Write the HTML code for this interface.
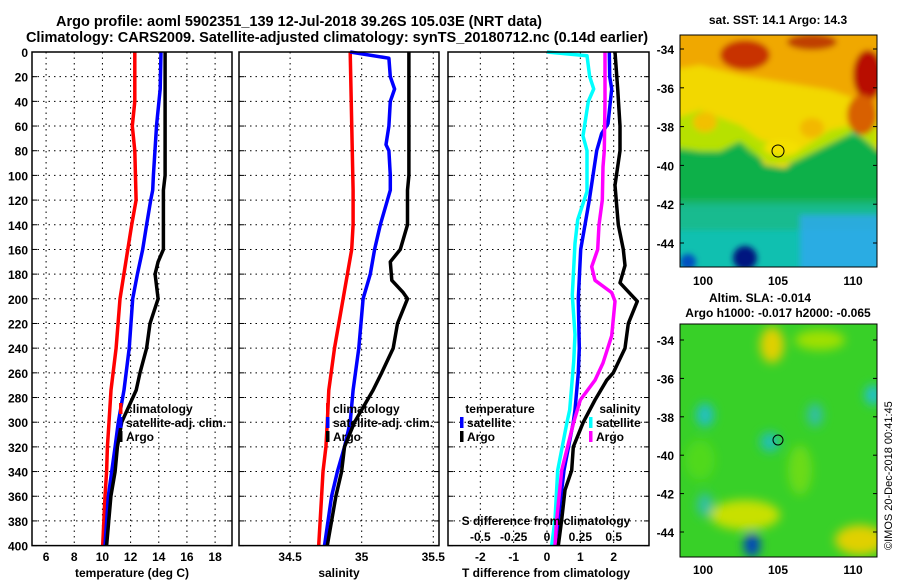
<!DOCTYPE html>
<html><head><meta charset="utf-8"><style>
body{margin:0;background:#fff;}
svg{display:block;font-family:"Liberation Sans",sans-serif;font-weight:bold;}
</style></head><body>
<svg id="chart" width="900" height="580" viewBox="0 0 900 580" xmlns="http://www.w3.org/2000/svg">
<defs>
<filter id="bl" x="-20%" y="-20%" width="140%" height="140%"><feGaussianBlur stdDeviation="5"/></filter>
<filter id="bl2" x="-20%" y="-20%" width="140%" height="140%"><feGaussianBlur stdDeviation="3"/></filter>
<clipPath id="c1"><rect x="680" y="35" width="197" height="232"/></clipPath>
<clipPath id="c2"><rect x="680" y="324" width="197" height="233"/></clipPath>
</defs>
<text x="299" y="26" font-size="14.5" text-anchor="middle">Argo profile: aoml 5902351_139 12-Jul-2018 39.26S 105.03E (NRT data)</text>
<text x="337" y="42" font-size="14.5" text-anchor="middle">Climatology: CARS2009. Satellite-adjusted climatology: synTS_20180712.nc (0.14d earlier)</text>

<g>
<g clip-path="url(#c1)">
<rect x="680" y="35" width="197" height="232" fill="#10c0b0"/>
<g filter="url(#bl2)">
<rect x="670" y="135" width="220" height="70" fill="#10b048"/>
<rect x="670" y="200" width="220" height="30" fill="#20b880" opacity="0.7"/>
<polygon points="670,25 890,25 890,150 877,150 855,130 835,140 815,150 795,160 785,168 765,165 755,150 740,140 720,150 700,150 670,145" fill="#f2d800"/>
<polygon points="670,120 700,110 740,125 760,140 800,150 830,130 877,120 877,150 855,132 835,142 815,152 795,162 770,164 750,152 740,142 720,152 700,152 670,148" fill="#a8e400" opacity="0.8"/>
<polygon points="670,25 890,25 890,110 860,100 830,90 800,85 770,80 740,75 700,65 670,70" fill="#f0a800"/>
<ellipse cx="745" cy="55" rx="25" ry="15" fill="#c83000"/>
<ellipse cx="812" cy="42" rx="25" ry="8" fill="#c04000"/>
<ellipse cx="868" cy="75" rx="15" ry="25" fill="#b81000"/>
<ellipse cx="862" cy="115" rx="15" ry="20" fill="#d86000"/>
<ellipse cx="705" cy="122" rx="12" ry="10" fill="#f2c000"/>
<ellipse cx="812" cy="128" rx="12" ry="10" fill="#f2b800"/>
<ellipse cx="782" cy="148" rx="18" ry="8" fill="#f4e000"/>
<rect x="800" y="215" width="80" height="55" fill="#30a8f0" opacity="0.8"/>
<ellipse cx="745" cy="258" rx="12" ry="12" fill="#001880"/>
<ellipse cx="688" cy="262" rx="8" ry="8" fill="#0050c0"/>
</g></g>
<rect x="680" y="35" width="197" height="232" fill="none" stroke="#000"/>
<circle cx="778" cy="151" r="6" fill="none" stroke="#000"/>
</g>
<g>
<g clip-path="url(#c2)">
<rect x="680" y="324" width="197" height="233" fill="#38d028"/>
<g filter="url(#bl)">
<ellipse cx="772" cy="345" rx="12" ry="18" fill="#e0d000"/>
<ellipse cx="820" cy="340" rx="25" ry="10" fill="#a0e000"/>
<ellipse cx="745" cy="515" rx="35" ry="15" fill="#c8e000"/>
<ellipse cx="860" cy="540" rx="25" ry="15" fill="#e0d000"/>
<ellipse cx="705" cy="415" rx="9" ry="12" fill="#20c0c0"/>
<ellipse cx="770" cy="442" rx="10" ry="10" fill="#20c0b0"/>
<ellipse cx="815" cy="415" rx="8" ry="12" fill="#30c0a0"/>
<ellipse cx="873" cy="395" rx="8" ry="10" fill="#20c0d0"/>
<ellipse cx="705" cy="505" rx="8" ry="12" fill="#30c0a0"/>
<ellipse cx="752" cy="545" rx="8" ry="12" fill="#0040c0"/>
<ellipse cx="800" cy="470" rx="12" ry="25" fill="#80e010" opacity="0.7"/>
<ellipse cx="700" cy="460" rx="15" ry="20" fill="#60e010" opacity="0.6"/>
</g></g>
<rect x="680" y="324" width="197" height="233" fill="none" stroke="#000"/>
<circle cx="778" cy="440" r="5" fill="none" stroke="#000"/>
</g>
<text x="778" y="24" font-size="12" text-anchor="middle">sat. SST: 14.1 Argo: 14.3</text>
<text x="760" y="302" font-size="12" text-anchor="middle">Altim. SLA: -0.014</text>
<text x="778" y="317" font-size="12" text-anchor="middle">Argo h1000: -0.017 h2000: -0.065</text>
<text transform="translate(892,550) rotate(-90)" font-size="11" font-weight="normal">©IMOS 20-Dec-2018 00:41:45</text>
<g id="plots"></g>
</svg>
<script>
const depthTicks=[0,20,40,60,80,100,120,140,160,180,200,220,240,260,280,300,320,340,360,380,400];
const tTicks=[6,8,10,12,14,16,18];
const sTicks=[34.5,35,35.5];
const dTTicks=[-2,-1,0,1,2];
const dSTickLabels=["-0.5","-0.25","0","0.25","0.5"];
const dSTicks=[-0.5,-0.25,0,0.25,0.5];
const lonTicks=[100,105,110];
const latTicks=[-34,-36,-38,-40,-42,-44];

const tClimD=[0,40,60,80,120,140,160,200,240,274,300,320,340,360,400];
const tClim=[12.3,12.3,12.12,12.3,12.39,12.08,11.8,11.25,10.97,10.61,10.47,10.35,10.3,10.18,10.02];
const tSatD=[0,30,59,100,112,120,140,160,180,200,240,274,300,320,340,360,400];
const tSat=[14.16,14.1,13.85,13.62,13.57,13.43,13.14,12.86,12.48,12.15,11.9,11.53,11.13,10.9,10.66,10.42,10.18];
const tArgoD=[0,100,112,160,170,180,200,220,240,260,274,300,320,340,360,400];
const tArgo=[14.45,14.45,14.33,14.33,13.95,13.74,13.95,13.38,13.14,12.67,12.4,11.37,11.06,10.9,10.6,10.3];

const sClimD=[0,112,140,160,200,240,274,300,320,340,360,400];
const sClim=[34.92,34.94,34.94,34.93,34.87,34.81,34.77,34.76,34.75,34.73,34.72,34.70];
const sSatD=[0,5,20,30,40,60,75,80,100,112,140,160,180,200,240,274,300,320,340,360,400];
const sSat=[34.92,35.19,35.2,35.23,35.2,35.19,35.17,35.19,35.2,35.2,35.13,35.09,35.06,35.01,34.98,34.94,34.92,34.88,34.83,34.79,34.74];
const sArgoD=[0,100,112,140,160,170,185,195,200,220,240,260,274,300,320,340,360,400];
const sArgo=[35.33,35.33,35.32,35.32,35.27,35.2,35.21,35.29,35.32,35.25,35.22,35.14,35.08,34.95,34.88,34.86,34.82,34.76];

const dSSatD=[0,3,20,30,40,68,80,113,136,155,197,229,251,290,300,339,379,400];
const dSSat=[0,0.30,0.32,0.35,0.31,0.27,0.30,0.30,0.23,0.21,0.19,0.21,0.20,0.17,0.15,0.08,0.06,0.035];
const dTSatD=[0,20,30,58,66,80,120,140,160,200,240,260,290,300,339,379,400];
const dTSat=[1.87,1.88,1.94,1.83,1.64,1.49,1.27,1.14,1.01,0.94,0.97,0.94,0.84,0.79,0.51,0.34,0.24];
const dSArgoD=[0,40,80,93,120,140,160,174,185,195,202,230,252,266,282,300,339,379,400];
const dSArgo=[0.435,0.435,0.43,0.42,0.415,0.39,0.38,0.335,0.36,0.485,0.51,0.485,0.42,0.36,0.25,0.20,0.11,0.073,0.06];
const dTArgoD=[0,30,60,80,108,140,160,173,187,202,220,240,260,266,282,300,320,339,355,379,400];
const dTArgo=[2.04,2.12,2.19,2.19,2.04,2.14,2.29,2.34,2.19,2.71,2.44,2.34,1.99,1.79,1.44,1.09,0.79,0.74,0.54,0.44,0.34];

const NS="http://www.w3.org/2000/svg";
const root=document.getElementById('plots');
function mk(tag,attrs,parent){const e=document.createElementNS(NS,tag);for(const k in attrs)e.setAttribute(k,attrs[k]);(parent||root).appendChild(e);return e;}
const Y0=52,Y1=545.6;
function yD(d){return Y0+(d/400)*(Y1-Y0);}
function scale(x0,x1,v0,v1){return v=>x0+(v-v0)/(v1-v0)*(x1-x0);}
const panels=[
 {x0:32,x1:232,v0:5,v1:19.2,name:'temperature-panel'},
 {x0:239,x1:439,v0:34.143,v1:35.54,name:'salinity-panel'},
 {x0:448,x1:649,v0:-2.97,v1:3.06,name:'difference-panel'}];
panels.forEach(p=>p.f=scale(p.x0,p.x1,p.v0,p.v1));
const fS=scale(448,649,-2.97/4,3.06/4);

function grid(p,ticks,g){
  depthTicks.forEach(d=>{if(d>0&&d<400){const l=mk('line',{x1:p.x0,x2:p.x1,y1:yD(d),y2:yD(d),stroke:'#000','stroke-dasharray':'1.5,4'},g);
  }
  mk('line',{x1:p.x0,x2:p.x0+5,y1:yD(d),y2:yD(d),stroke:'#000'},g);mk('line',{x1:p.x1-5,x2:p.x1,y1:yD(d),y2:yD(d),stroke:'#000'},g);});
  ticks.forEach(v=>{const x=p.f(v);const l=mk('line',{x1:x,x2:x,y1:Y0,y2:Y1,stroke:'#000','stroke-dasharray':'1.5,4'},g);
  });
}
function line(g,fx,vals,ds,color,name){
  const pts=vals.map((v,i)=>fx(v).toFixed(1)+','+yD(ds[i]).toFixed(1)).join(' ');
  const l=mk('polyline',{points:pts,fill:'none',stroke:color,'stroke-width':3.5,'stroke-linejoin':'round'},g);
  
  
}
function frame(p,g){mk('rect',{x:p.x0,y:Y0,width:p.x1-p.x0,height:Y1-Y0,fill:'none',stroke:'#000','stroke-width':1.5},g);}
function txt(x,y,s,g,anchor,size){const t=mk('text',{x:x,y:y,'font-size':size||12,'text-anchor':anchor||'middle'},g);t.textContent=s;return t;}
function legend(g,x,y,color,label){mk('rect',{x:x,y:y-10,width:3.5,height:11,fill:color},g);txt(x+7,y,label,g,'start');}

const yl=mk('g',{});


depthTicks.forEach(d=>txt(28,yD(d)+5,String(d),yl,'end'));

let g=mk('g',{});


grid(panels[0],tTicks,g);
line(g,panels[0].f,tClim,tClimD,'#ff0000','climatology-temperature-line');
line(g,panels[0].f,tSat,tSatD,'#0000ff','satellite-temperature-line');
line(g,panels[0].f,tArgo,tArgoD,'#000','argo-temperature-line');
frame(panels[0],g);
tTicks.forEach(v=>txt(panels[0].f(v),561,String(v),g));
txt(132,577,'temperature (deg C)',g);
legend(g,119,413,'#ff0000','climatology');legend(g,119,427,'#0000ff','satellite-adj. clim.');legend(g,119,441,'#000','Argo');

g=mk('g',{});


grid(panels[1],sTicks,g);
line(g,panels[1].f,sClim,sClimD,'#ff0000','climatology-salinity-line');
line(g,panels[1].f,sSat,sSatD,'#0000ff','satellite-salinity-line');
line(g,panels[1].f,sArgo,sArgoD,'#000','argo-salinity-line');
frame(panels[1],g);
sTicks.forEach(v=>txt(panels[1].f(v),561,String(v),g));
txt(339,577,'salinity',g);
legend(g,326,413,'#ff0000','climatology');legend(g,326,427,'#0000ff','satellite-adj. clim.');legend(g,326,441,'#000','Argo');

g=mk('g',{});


grid(panels[2],dTTicks,g);
line(g,fS,dSSat,dSSatD,'#00ffff','satellite-salinity-diff-line');
line(g,panels[2].f,dTSat,dTSatD,'#0000ff','satellite-temperature-diff-line');
line(g,fS,dSArgo,dSArgoD,'#ff00ff','argo-salinity-diff-line');
line(g,panels[2].f,dTArgo,dTArgoD,'#000','argo-temperature-diff-line');
frame(panels[2],g);
dTTicks.forEach(v=>txt(panels[2].f(v),561,String(v),g));
dSTicks.forEach((v,i)=>txt(fS(v),541,dSTickLabels[i],g));
txt(546,525,'S difference from climatology',g);
txt(546,577,'T difference from climatology',g);
txt(500,413,'temperature',g);
legend(g,460,427,'#0000ff','satellite');legend(g,460,441,'#000','Argo');
txt(620,413,'salinity',g);
legend(g,589,427,'#00ffff','satellite');legend(g,589,441,'#ff00ff','Argo');

function mapAxes(top,bottom,latTop,latBot,name){
  const ga=mk('g',{});
  
  
  const fy=scale(top,bottom,latTop,latBot);
  const fx=scale(703,853,100,110);
  latTicks.forEach(v=>{const y=fy(v);txt(674,y+5,String(v),ga,'end');
    mk('line',{x1:680,x2:684,y1:y,y2:y,stroke:'#000'},ga);mk('line',{x1:873,x2:877,y1:y,y2:y,stroke:'#000'},ga);});
  return {ga,fx};
}
let m=mapAxes(49,243,-34,-44,'sst-map-axes');
lonTicks.forEach(v=>txt(m.fx(v),285,String(v),m.ga));
m=mapAxes(340,532,-34,-44,'sla-map-axes');
lonTicks.forEach(v=>txt(m.fx(v),574,String(v),m.ga));
</script>
</body></html>
